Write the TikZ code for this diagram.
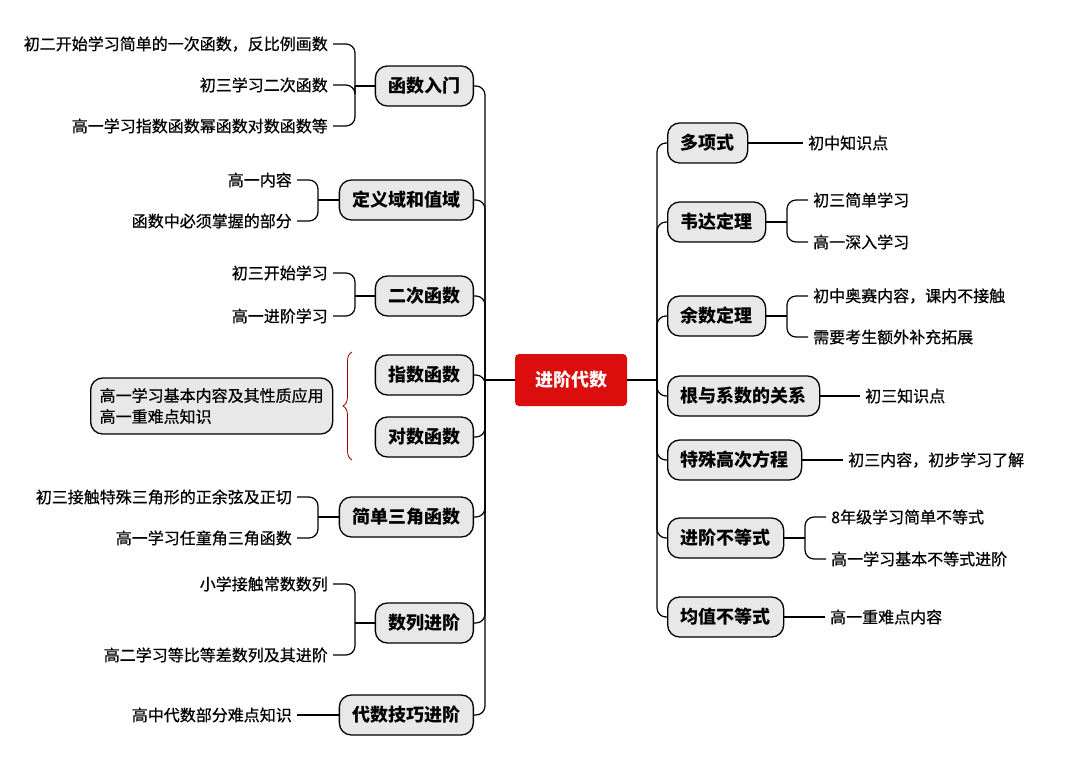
\documentclass[tikz,border=0pt]{standalone}
\usepackage{fontspec}
\setmainfont{Noto Sans CJK SC}
\newfontfamily\medf[FakeBold=0.6]{Noto Sans CJK SC}
\usetikzlibrary{decorations.pathreplacing}
\begin{document}
\begin{tikzpicture}[x=1pt,y=-1pt,
  topic/.style={draw=black,line width=1.3pt,fill=black!9,rounded corners=12pt,minimum height=40pt,inner xsep=13pt,font=\fontsize{18}{20}\selectfont\bfseries},
  leaf/.style={inner sep=5pt,font=\medf\fontsize{16}{18}\selectfont},
  ln/.style={line width=1.2pt,rounded corners=9pt}]
\useasboundingbox (0,0) rectangle (1080,777);
\fill[white] (0,0) rectangle (1080,777);
\node[fill=red!85!black!95,text=white,rounded corners=4pt,minimum width=112pt,minimum height=52pt,font=\fontsize{18}{20}\selectfont\bfseries] (c) at (571,380) {进阶代数};
\coordinate (L) at (485,380);
\coordinate (R) at (657,380);
\draw[ln] (c.west) -- (L);
\draw[ln] (c.east) -- (R);
% left topics
\foreach \n/\y/\t in {a/86/函数入门, b/200/定义域和值域, d/296/二次函数, e/375/指数函数, f/437/对数函数, g/517/简单三角函数, h/623/数列进阶, i/715/代数技巧进阶}{
  \node[topic,anchor=east] (\n) at (474,\y) {\t};
  \draw[ln] (\n.east) -| (L);
}
% right topics
\foreach \n/\y/\t in {p/143/多项式, q/222/韦达定理, r/316/余数定理, s/396/根与系数的关系, u/460/特殊高次方程, v/538/进阶不等式, w/617/均值不等式}{
  \node[topic,anchor=west] (\n) at (667,\y) {\t};
  \draw[ln] (\n.west) -| (R);
}
% left leaves with brackets
\node[leaf,anchor=east] (a1) at (333,44) {初二开始学习简单的一次函数，反比例画数};
\node[leaf,anchor=east] (a2) at (333,85) {初三学习二次函数};
\node[leaf,anchor=east] (a3) at (333,126) {高一学习指数函数幂函数对数函数等};
\coordinate (ja) at (355,86);
\foreach \k in {a1,a2,a3} \draw[ln] (\k.east) -| (ja);
\draw[ln] (ja) -- (a.west);

\node[leaf,anchor=east] (b1) at (297,180) {高一内容};
\node[leaf,anchor=east] (b2) at (297,221) {函数中必须掌握的部分};
\coordinate (jb) at (318,200);
\foreach \k in {b1,b2} \draw[ln] (\k.east) -| (jb);
\draw[ln] (jb) -- (b.west);

\node[leaf,anchor=east] (d1) at (333,273) {初三开始学习};
\node[leaf,anchor=east] (d2) at (333,316) {高一进阶学习};
\coordinate (jd) at (355,296);
\foreach \k in {d1,d2} \draw[ln] (\k.east) -| (jd);
\draw[ln] (jd) -- (d.west);

\node[leaf,anchor=east] (g1) at (297,497) {初三接触特殊三角形的正余弦及正切};
\node[leaf,anchor=east] (g2) at (297,538) {高一学习任童角三角函数};
\coordinate (jg) at (318,517);
\foreach \k in {g1,g2} \draw[ln] (\k.east) -| (jg);
\draw[ln] (jg) -- (g.west);

\node[leaf,anchor=east] (h1) at (333,584) {小学接触常数数列};
\node[leaf,anchor=east] (h2) at (333,655) {高二学习等比等差数列及其进阶};
\coordinate (jh) at (355,623);
\foreach \k in {h1,h2} \draw[ln] (\k.east) -| (jh);
\draw[ln] (jh) -- (h.west);

\node[leaf,anchor=east] (i1) at (297,715) {高中代数部分难点知识};
\draw[ln] (i1.east) -- (i.west);

% brace + box
\node[draw=black,line width=1.3pt,fill=black!9,rounded corners=12pt,minimum width=242pt,minimum height=56pt,align=left,inner xsep=9pt,font=\medf\fontsize{16}{21}\selectfont,anchor=west] (k) at (90,406) {高一学习基本内容及其性质应用\\高一重难点知识};
\draw[red!60!black,line width=0.8pt,decorate,decoration={brace,amplitude=9pt}] (352,460) -- (352,352);
% right leaves
\node[leaf,anchor=west] (p1) at (803,143) {初中知识点};
\draw[ln] (p.east) -- (p1.west);

\node[leaf,anchor=west] (q1) at (808,200) {初三简单学习};
\node[leaf,anchor=west] (q2) at (808,242) {高一深入学习};
\coordinate (jq) at (787,222);
\foreach \k in {q1,q2} \draw[ln] (\k.west) -| (jq);
\draw[ln] (jq) -- (q.east);

\node[leaf,anchor=west] (r1) at (808,296) {初中奥赛内容，课内不接触};
\node[leaf,anchor=west] (r2) at (808,337) {需要考生额外补充拓展};
\coordinate (jr) at (787,316);
\foreach \k in {r1,r2} \draw[ln] (\k.west) -| (jr);
\draw[ln] (jr) -- (r.east);

\node[leaf,anchor=west] (s1) at (860,396) {初三知识点};
\draw[ln] (s.east) -- (s1.west);

\node[leaf,anchor=west] (u1) at (843,460) {初三内容，初步学习了解};
\draw[ln] (u.east) -- (u1.west);

\node[leaf,anchor=west] (v1) at (826,517) {8年级学习简单不等式};
\node[leaf,anchor=west] (v2) at (826,559) {高一学习基本不等式进阶};
\coordinate (jv) at (805,538);
\foreach \k in {v1,v2} \draw[ln] (\k.west) -| (jv);
\draw[ln] (jv) -- (v.east);

\node[leaf,anchor=west] (w1) at (825,617) {高一重难点内容};
\draw[ln] (w.east) -- (w1.west);
\end{tikzpicture}
\end{document}
